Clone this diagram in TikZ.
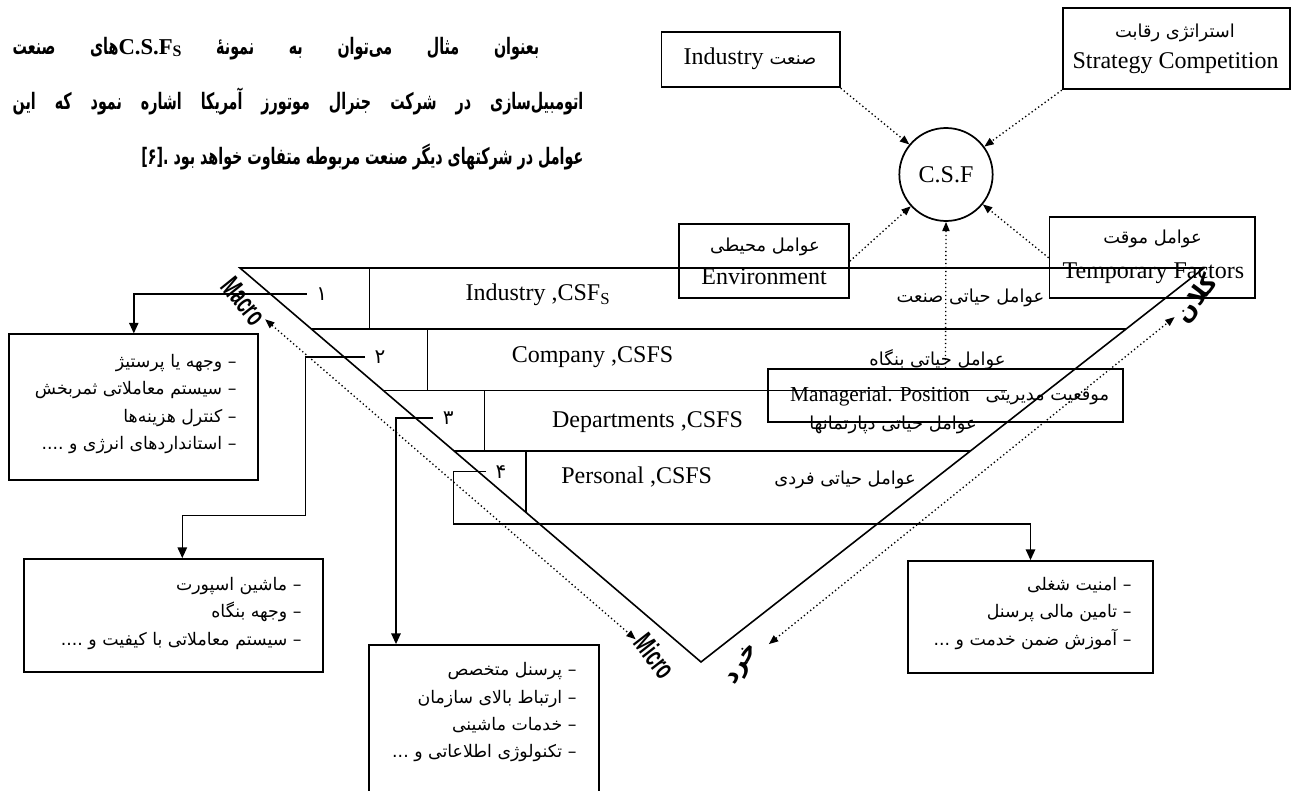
\documentclass[tikz,border=0pt]{standalone}
\usepackage{fontspec}
\usepackage{graphicx}
\setmainfont{Liberation Serif}
\newfontfamily\fa[Script=Arabic]{DejaVu Sans}
\newfontfamily\lsans{Liberation Sans}
\TeXXeTstate=1
\usetikzlibrary{arrows.meta,shapes.geometric,fit}
% right-to-left run
\newcommand\farl[1]{\beginR#1\endR}

\begin{document}
\begin{tikzpicture}[x=0.75pt,y=-0.75pt,
  frame/.style={draw,line width=1.3pt,inner sep=0pt},
  rule/.style={line width=1.2pt},
  link/.style={line width=1.2pt,-{Triangle[length=8pt,width=7pt]}},
  dotlink/.style={line width=1pt,dotted,-{Triangle[length=7pt,width=5.5pt]}},
  dotboth/.style={line width=1pt,dotted,{Triangle[length=7pt,width=5.5pt]}-{Triangle[length=7pt,width=5.5pt]}},
  en/.style={font=\fontsize{18}{20}\selectfont,inner sep=0pt},
  fatext/.style={font=\fa\fontsize{13.4}{15}\selectfont,inner sep=0pt},
  items/.style={font=\fa\fontsize{13}{20.5}\selectfont,align=right,inner sep=0pt,anchor=east},
  num/.style={font=\fa\fontsize{15}{17}\selectfont,inner xsep=7pt,inner ysep=0pt},
  tag/.style={font=\lsans\bfseries\fontsize{22}{22}\selectfont,inner sep=1pt},
  fatag/.style={font=\fa\bfseries\fontsize{18}{18}\selectfont,inner sep=1pt}]

\useasboundingbox (0,0) rectangle (1293,791);
\fill[white] (0,0) rectangle (1293,791);

% introductory paragraph, set narrow (x factor 0.63)
\node[anchor=base west,inner sep=0pt,font=\fa\bfseries\fontsize{17}{17}\selectfont] (intro) at (12.4,164.3)
 {\scalebox{0.63}[1]{\vbox{\baselineskip=41.25pt
  \hbox to 627pt{\spaceskip=.3em plus 1fil\relax\beginR بعنوان مثال می‌توان به نمونهٔ {\rmfamily\beginL\scalebox{1.587}[1]{C.S.F\raisebox{-1.5pt}{\fontsize{12}{12}\selectfont S}}\endL}های صنعت\endR}
  \hbox to 679.4pt{\spaceskip=.3em plus 1fil\relax\beginR اتومبیل‌سازی در شرکت جنرال موتورز آمریکا اشاره نمود که این\endR}
  \hbox to 679.4pt{\hfil\beginR عوامل در شرکتهای دیگر صنعت مربوطه متفاوت خواهد بود \beginL.[۶]\endL\endR}}}};

% factor boxes around C.S.F
\node[frame,fit={(661.5,31.7) (839.8,87.3)}] (ind) {};
\node[en] (indtxt) at (750,58.3) {Industry {\fa\fontsize{13.4}{15}\selectfont صنعت}};
\node[frame,fit={(1062.7,8.3) (1290.2,89.3)}] (strat) {};
\node[fatext] (stratfa) at (1175,33.3) {\farl{استراتژی رقابت}};
\node[en] (straten) at (1175.5,63.3) {Strategy Competition};
\node[frame,fit={(679.3,224) (849,298.3)}] (env) {};
\node[fatext] (envfa) at (765,246.7) {\farl{عوامل محیطی}};
\node[en] (envEn) at (764,276.7) {Environment};
\node[frame,fit={(1049.5,217.3) (1254.8,298.3)}] (temp) {};
\node[fatext] (tempfa) at (1152.5,239.3) {\farl{عوامل موقت}};
\node[en] (tempen) at (1153.4,273.3) {Temporary Factors};
\node[frame,fit={(768.3,369) (1122.7,422.3)}] (mgr) {};
\node[font=\fontsize{16}{18}\selectfont,inner sep=0pt] (mgren) at (880,396.5) {Managerial. Position};
\node[fatext] (mgrfa) at (1047.5,397) {\farl{موقعیت مدیریتی}};

\node[draw,ellipse,line width=1.3pt,minimum width=70pt,minimum height=69.75pt,inner sep=0pt,
      font=\fontsize{18}{20}\selectfont] (csf) at (946,174.5) {C.S.F};

\draw[dotlink] (ind.south east) -- (csf);
\draw[dotlink] (strat.south west) -- (csf);
\draw[dotlink] (env.east) -- (csf);
\draw[dotlink] (temp.west) -- (csf);
\draw[dotlink] (mgr.north) -- (csf.south);

% the funnel and its bands
\coordinate (vl) at (240,268);
\coordinate (vb) at (701,662);
\coordinate (vr) at (1204,268);
\draw[rule] (vl) -- (vb) -- (vr) -- cycle;
\draw[rule] (311.4,329) -- (1126,329);
\draw[rule] (382.7,390.5) -- (1007,390.5);
\draw[rule] (454.1,451) -- (970,451);
\draw[rule] (369.3,268) -- (369.3,329);
\draw[rule] (427.3,329) -- (427.3,390.5);
\draw[rule] (484.3,390.5) -- (484.3,451);
\draw[rule] (525.7,451) -- (525.7,512.4);

\node[en] (band1) at (538,295) {Industry ,CSF\textsubscript{S}};
\node[en] (band2) at (592.5,356.7) {Company ,CSFS};
\node[en] (band3) at (647.5,421.7) {Departments ,CSFS};
\node[en] (band4) at (636.7,476.7) {Personal ,CSFS};
\node[fatext] (band1fa) at (970.5,298) {\farl{عوامل حیاتی صنعت}};
\node[fatext] (band2fa) at (937.5,360) {\farl{عوامل حیاتی بنگاه}};
\node[fatext] (band3fa) at (893,425) {\farl{عوامل حیاتی دپارتمانها}};
\node[fatext] (band4fa) at (845,480) {\farl{عوامل حیاتی فردی}};

% level tags
\node[tag,rotate=-51] (macro) at (244,301) {\scalebox{0.6}[1]{Macro}};
\node[tag,rotate=-52] (micro) at (655,656) {\scalebox{0.6}[1]{Micro}};
\node[fatag,rotate=53] (kalan) at (1197,299) {\farl{کلان}};
\node[fatag,rotate=58] (khord) at (743,665) {\farl{خرد}};
\draw[dotboth] (macro) -- (micro);
\draw[dotboth,shorten <=6pt] (khord) -- (kalan);

% example lists
\node[frame,fit={(9.3,334.3) (258.3,480)}] (box1) {};
\node[items] (list1) at (236.7,404) {\farl{– وجهه یا پرستیژ}\\\farl{– سیستم معاملاتی ثمربخش}\\\farl{– کنترل هزینه‌ها}\\\farl{– استانداردهای انرژی و ....}};
\node[frame,fit={(24,559) (323,671.7)}] (box2) {};
\node[items] (list2) at (301.7,613.3) {\farl{– ماشین اسپورت}\\\farl{– وجهه بنگاه}\\\farl{– سیستم معاملاتی با کیفیت و ....}};
\node[frame,fit={(369,645) (599,800)}] (box3) {};
\node[items] (list3) at (576.7,712.5) {\farl{– پرسنل متخصص}\\\farl{– ارتباط بالای سازمان}\\\farl{– خدمات ماشینی}\\\farl{– تکنولوژی اطلاعاتی و ...}};
\node[frame,fit={(908.3,561) (1152.7,673.3)}] (box4) {};
\node[items] (list4) at (1131.7,613.3) {\farl{– امنیت شغلی}\\\farl{– تامین مالی پرسنل}\\\farl{– آموزش ضمن خدمت و ...}};

% level numbers and their leaders
\node[num] (n1) at (321.7,294.3) {۱};
\node[num] (n2) at (380,357) {۲};
\node[num] (n3) at (448.3,418.3) {۳};
\node[num] (n4) at (501,471.7) {۴};
\coordinate (k2a) at (305.5,357);
\coordinate (k2b) at (305.5,515.7);
\coordinate (k2c) at (182.3,515.7);
\coordinate (k3) at (396,418.3);
\coordinate (k4a) at (453.3,471.7);
\coordinate (k4b) at (453.3,524);
\draw[link] (n1.west) -| (box1.north);
\draw[link] (n2.west) -- (k2a) -- (k2b) -- (k2c) -- (k2c |- box2.north);
\draw[link] (n3.west) -- (k3) -- (k3 |- box3.north);
\draw[link] (n4.west) -- (k4a) -- (k4b) -| (box4.north);
\end{tikzpicture}
\end{document}
